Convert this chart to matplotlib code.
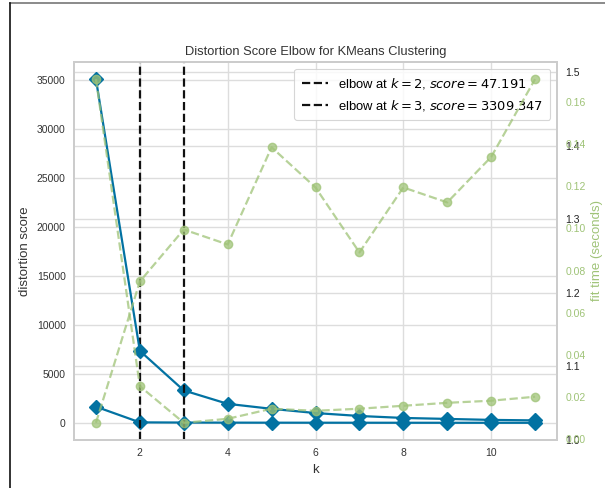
import numpy as np
import matplotlib.pyplot as plt
from matplotlib.lines import Line2D

plt.rcParams['font.family'] = ['Liberation Sans', 'DejaVu Sans']

# number of clusters
k_values = [1, 2, 3, 4, 5, 6, 7, 8, 9, 10, 11]

# distortion scores, first and second run
scores_run1 = [1650, 47.191, 30, 20, 15, 12, 10, 8, 6, 5, 4]
scores_run2 = [35100, 7350, 3309.347, 1940, 1430, 1000, 700, 500, 400, 300, 250]
elbow_run1 = (2, 47.191)
elbow_run2 = (3, 3309.347)

# fit times (seconds)
times_run1 = [0.171, 0.025, 0.0076, 0.0095, 0.0143, 0.0133, 0.0143, 0.0157, 0.0171, 0.0181, 0.0200]
times_run2 = [0.0076, 0.0748, 0.0995, 0.0924, 0.1386, 0.1195, 0.0886, 0.1195, 0.1124, 0.134, 0.171]

blue = '#0272a2'
green = '#9fc377'
grid_c = '#dddddd'
spine_c = '#cccccc'

fig = plt.figure(figsize=(6.05, 4.88), dpi=100)
ax = fig.add_axes([0.1223, 0.0984, 0.7984, 0.7746])
ax.set_zorder(2)
ax.patch.set_visible(False)

# empty twin axis left over behind the main one
ax_b = ax.twinx()
ax_b.set_zorder(1)
ax_b.patch.set_facecolor('white')
ax_b.set_ylim(1.0, 1.5136)
ax_b.set_yticks([1.0, 1.1, 1.2, 1.3, 1.4, 1.5])
ax_b.set_yticklabels(['1.0', '1.1', '1.2', '1.3', '1.4', '1.5'])
ax_b.grid(True, color=grid_c, lw=1)
ax_b.tick_params(axis='y', length=0, labelsize=7.5, colors='#222222', pad=6)

for sc, el in [(scores_run1, elbow_run1), (scores_run2, elbow_run2)]:
    ax.plot(k_values, sc, marker='D', color=blue, lw=1.6, ms=7)
    ax.axvline(el[0], c='#111111', ls='--', lw=1.6,
               label=r'elbow at $k={}$, $score={:0.3f}$'.format(el[0], el[1]))

ax.grid(True, color=grid_c, lw=1)
ax.set_axisbelow(True)
ax.set_xticks([2, 4, 6, 8, 10])
ax.tick_params(length=0, labelsize=7.5, colors='#333333', pad=6)
ax.set_title('Distortion Score Elbow for KMeans Clustering', fontsize=9.3, color='#333333', pad=5)
ax.set_xlabel('k', fontsize=9.5, color='#333333')
ax.set_ylabel('distortion score', fontsize=9.5, color='#333333')
leg = ax.legend(loc='upper right', fontsize=9.4, frameon=True, framealpha=0.8,
                edgecolor=spine_c, borderpad=0.55, labelspacing=0.55)
leg.get_frame().set_linewidth(0.8)

# fit time axis
ax_t = ax.twinx()
ax_t.set_zorder(3)
ax_t.patch.set_visible(False)
ax_t.plot(k_values, times_run1, c=green, marker='o', ls='--', alpha=0.75, lw=1.6, ms=6)
ax_t.plot(k_values, times_run2, c=green, marker='o', ls='--', alpha=0.75, lw=1.6, ms=6)
ax_t.grid(False)
ax_t.set_yticks([0.0, 0.02, 0.04, 0.06, 0.08, 0.10, 0.12, 0.14, 0.16])
ax_t.tick_params(axis='y', length=0, labelsize=7.5, colors=green, pad=6)
ax_t.set_ylabel('fit time (seconds)', color=green, fontsize=9.5)

for a in (ax, ax_b, ax_t):
    for s in a.spines.values():
        s.set_color(spine_c)
        s.set_linewidth(1.2)

# screenshot frame
fig.add_artist(Line2D([10 / 605, 1], [1 - 3 / 488, 1 - 3 / 488], color='#777777', lw=1.2))
fig.add_artist(Line2D([10 / 605, 10 / 605], [0, 1 - 3 / 488], color='#111111', lw=1.2))

fig.savefig('out.png', dpi=100)
